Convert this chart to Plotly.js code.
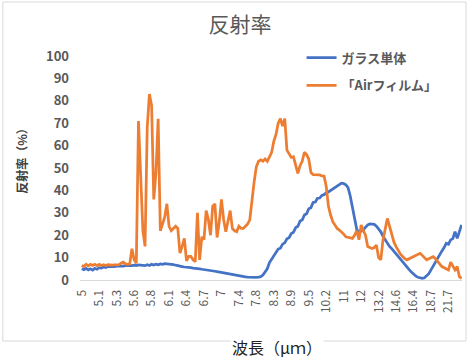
<!DOCTYPE html>
<html>
<head>
<meta charset="utf-8">
<script src="https://cdn.plot.ly/plotly-3.0.1.min.js"></script>
<style>html,body{margin:0;padding:0;background:#fff;}#chart{width:476px;height:363px;}</style>
</head>
<body>
<div id="chart"></div>
<script>
// Wavelength tick labels (µm), one every 8 samples along the category axis
const wavelengthLabels = ["5","5.1","5.3","5.6","5.8","6.1","6.4","6.7","7","7.4","7.8","8.3","8.9","9.5","10.2","11","12","13.2","14.6","16.4","18.7","21.7"];
const samplesPerLabel = 8;

// ガラス単体 reflectance (%)
const glass = [
5.0,4.6,5.2,4.5,5.0,4.4,5.2,4.8,5.5,5.3,5.8,5.6,6.0,5.9,6.1,6.0,6.2,6.1,6.3,6.2,
6.4,6.3,6.5,6.4,6.6,6.4,6.7,6.5,6.6,6.4,6.8,6.5,7.0,6.7,7.1,6.8,7.2,7.0,7.3,7.2,
7.4,7.2,6.9,6.6,6.3,6.1,6.0,5.8,5.8,5.6,5.5,5.3,5.3,5.1,5.0,4.8,4.7,4.5,4.4,4.2,
4.1,3.9,3.7,3.5,3.4,3.2,3.0,2.8,2.6,2.3,2.2,2.0,1.9,1.7,1.6,1.4,1.3,1.2,1.1,1.1,
1.2,1.3,1.5,2.2,3.5,5.0,7.8,9.2,11.0,12.0,13.8,14.2,16.0,16.6,18.4,18.9,20.8,21.3,23.4,24.0,
26.3,26.8,29.0,29.6,31.8,32.3,34.6,34.8,36.5,36.6,37.8,38.1,39.0,39.3,40.0,40.5,41.4,42.0,42.7,43.2,
43.1,42.5,41.2,37.5,32.5,26.8,22.5,21.5,21.8,22.5,23.8,24.6,25.0,25.0,24.8,24.0,22.8,21.5,19.5,17.8,
16.3,15.0,14.0,12.8,11.5,10.3,9.0,7.8,6.6,5.5,4.6,3.6,2.6,1.8,1.2,0.8,0.7,1.0,1.8,2.8,
4.5,6.3,8.0,9.8,11.5,13.0,14.5,16.4,16.0,17.9,18.5,21.6,18.6,22.0,24.6
];

// 「Airフィルム」 reflectance (%)
const airFilm = [
6.5,6.0,7.0,6.3,7.0,6.5,7.0,6.4,7.0,6.5,6.8,6.5,6.8,6.6,6.6,6.7,6.6,6.8,7.5,8.0,
7.2,7.0,7.2,14,9,7.5,71,42,22,15,68,83,78,36,48,72,22,25,28,34,
24,22,23,24,23,12,15,18.6,8.5,10.5,10.5,9,8.2,30,9,19.3,18,31,27,20,
33,34,19,26,36,27,21.5,26,31,23,22,21.6,24,23,23,24,25,27,36,44,
50.6,53,53.6,53,54,53,55,57,62,65,70,72,68.7,72,58,56,54.7,55,51,47.6,
51,53,57,56,54,48,47,47,46.9,46.9,46.5,46.4,41.7,33,29,26,24.5,23,22.3,21.5,
20.5,19.3,19,18.8,18.6,20,22,18,24.6,22,20,14.9,14.5,14.1,14.5,15.6,10,9,17.9,23.5,
27.5,24,20,17,14.9,13,11.5,10.5,9.5,9,9.5,10,10.4,10.8,11.5,11.9,11,10,9,9.5,
10,10.4,9.5,8.2,7,6,5.5,4.8,4.5,8,6,4.5,6,1.5,0.7
];

const sampleIndex = glass.map((_, i) => i);
const tickPositions = wavelengthLabels.map((_, k) => k * samplesPerLabel);

const gray = '#595959';
const jp = '"Noto Sans CJK JP", "Noto Sans", sans-serif';

const traces = [
  {x: sampleIndex, y: glass, type: 'scatter', mode: 'lines', name: 'ガラス単体',
   line: {color: '#4472C4', width: 2.75}, legendgroup: 'a'},
  {x: sampleIndex, y: airFilm, type: 'scatter', mode: 'lines', name: '「Airフィルム」',
   line: {color: '#ED7D31', width: 2.75}, legendgroup: 'b'}
];

const layout = {
  width: 476, height: 363,
  margin: {l: 80, r: 14, t: 56, b: 83},
  paper_bgcolor: '#fff', plot_bgcolor: '#fff',
  showlegend: true,
  title: {text: '反射率', font: {family: jp, size: 21, color: gray},
          x: 0.504, xanchor: 'center', y: 0.931, yanchor: 'middle'},
  legend: {x: 0.58, y: 1.06, xanchor: 'left', yanchor: 'top',
           font: {family: jp, size: 13, color: gray, weight: 'bold'},
           bgcolor: 'rgba(0,0,0,0)', tracegroupgap: 8, traceorder: 'grouped', itemwidth: 30},
  xaxis: {
    range: [-0.8, 174.2], showgrid: false, zeroline: false,
    showline: true, linecolor: '#d9d9d9', linewidth: 1,
    tickmode: 'array', tickvals: tickPositions, ticktext: wavelengthLabels,
    tickangle: -90, ticks: '', ticklabelstandoff: 4,
    tickfont: {family: jp, size: 12, color: gray}
  },
  yaxis: {
    range: [0, 100], dtick: 10, showgrid: false, zeroline: false, showline: false,
    ticks: '', ticklabelstandoff: 10,
    tickfont: {family: jp, size: 13, color: gray, weight: 'bold'}
  },
  annotations: [
    {text: '反射率（%）', xref: 'paper', yref: 'paper', x: -0.152, y: 0.545,
     xanchor: 'center', yanchor: 'middle', textangle: -90, showarrow: false,
     font: {family: jp, size: 12, color: '#404040', weight: 'bold'}},
    {text: '波長（μｍ）', xref: 'paper', yref: 'paper', x: 0.516, y: -0.298,
     xanchor: 'center', yanchor: 'middle', showarrow: false, bgcolor: '#fff',
     font: {family: jp, size: 16, color: '#222'}}
  ],
  shapes: [
    {type: 'rect', xref: 'paper', yref: 'paper', x0: -0.202, x1: 1.0105, y0: -0.2725, y1: 1.241,
     line: {color: '#d9d9d9', width: 1}, layer: 'below'}
  ]
};

Plotly.newPlot('chart', traces, layout, {displayModeBar: false, staticPlot: true});
</script>
</body>
</html>
